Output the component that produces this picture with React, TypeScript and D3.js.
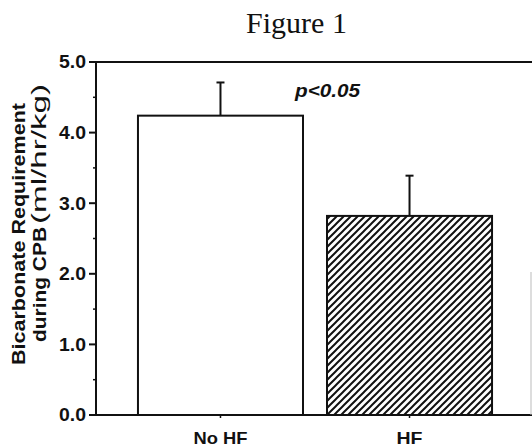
import React from "react";
import * as d3 from "d3";

const categories = ["No HF", "HF"];
const values = [4.24, 2.82];
const errors = [0.47, 0.57];
const yTicks = [0, 1, 2, 3, 4, 5];
const yMinorTicks = [0.5, 1.5, 2.5, 3.5, 4.5];
const yTickLabels = ["0.0", "1.0", "2.0", "3.0", "4.0", "5.0"];
const title = "Figure 1";
const annotation = "p<0.05";
const yTitleLine1 = "Bicarbonate Requirement";
const yTitleLine2a = "during CPB";
const yTitleLine2b = "(ml/hr/kg)";

const W = 532;
const H = 447;
const AX_LEFT = 96;
const AX_RIGHT = 532;
const SANS = "'Liberation Sans', Arial, Helvetica, sans-serif";

export default function App() {
  const y = d3.scaleLinear().domain([0, 5]).range([415, 62]);
  const x = d3
    .scaleBand<string>()
    .domain(categories)
    .range([96, 534])
    .paddingInner(0.127)
    .paddingOuter(0.222);
  const bw = x.bandwidth();

  return (
    <svg
      width={W}
      height={H}
      style={{ position: "absolute", left: 0, top: 0, background: "#fff" }}
    >
      <defs>
        <pattern id="hatch" patternUnits="userSpaceOnUse" width={7} height={7}>
          <rect width={7} height={7} fill="#fff" />
          <path
            d="M-1,1 l2,-2 M0,7 l7,-7 M6,8 l2,-2"
            stroke="#111"
            strokeWidth={2}
          />
        </pattern>
      </defs>

      {/* Title */}
      <text
        x={296.5}
        y={33}
        textAnchor="middle"
        fontFamily="'Liberation Serif', 'Times New Roman', serif"
        fontSize={30}
        fill="#111"
      >
        {title}
      </text>

      {/* Bars */}
      {categories.map((c, i) => {
        const x0 = x(c)!;
        const cx = x0 + bw / 2;
        return (
          <g key={c}>
            <line
              x1={cx}
              x2={cx}
              y1={y(values[i])}
              y2={y(values[i] + errors[i])}
              stroke="#111"
              strokeWidth={2}
            />
            <line
              x1={cx - 4}
              x2={cx + 4}
              y1={y(values[i] + errors[i])}
              y2={y(values[i] + errors[i])}
              stroke="#111"
              strokeWidth={2}
            />
            <rect
              x={x0}
              y={y(values[i])}
              width={bw}
              height={y(0) - y(values[i])}
              fill={i === 0 ? "#fff" : "url(#hatch)"}
              stroke="#111"
              strokeWidth={2}
            />
          </g>
        );
      })}

      {/* Frame: left axis, top line, baseline */}
      <line x1={AX_LEFT} x2={AX_LEFT} y1={y(5)} y2={y(0)} stroke="#111" strokeWidth={2} />
      <line x1={AX_LEFT - 1} x2={AX_RIGHT} y1={y(5)} y2={y(5)} stroke="#111" strokeWidth={2} />
      <line x1={AX_LEFT - 1} x2={AX_RIGHT} y1={y(0)} y2={y(0)} stroke="#111" strokeWidth={2} />
      <line x1={531} x2={531} y1={272} y2={y(0)} stroke="#bbb" strokeWidth={1} />

      {/* Y ticks */}
      {yTicks.map((t, i) => (
        <g key={t}>
          <line x1={AX_LEFT - 7} x2={AX_LEFT} y1={y(t)} y2={y(t)} stroke="#111" strokeWidth={2} />
          <text
            x={86}
            y={y(t)}
            dy="0.36em"
            textAnchor="end"
            fontFamily={SANS}
            fontWeight="bold"
            fontSize={17.5}
            textLength={27}
            lengthAdjust="spacingAndGlyphs"
            fill="#111"
          >
            {yTickLabels[i]}
          </text>
        </g>
      ))}
      {yMinorTicks.map((t) => (
        <line key={t} x1={AX_LEFT - 3} x2={AX_LEFT} y1={y(t)} y2={y(t)} stroke="#111" strokeWidth={1.5} />
      ))}

      {/* X ticks and labels */}
      {categories.map((c) => {
        const cx = x(c)! + bw / 2;
        return (
          <g key={c}>
            <line x1={cx} x2={cx} y1={y(0)} y2={y(0) + 3} stroke="#111" strokeWidth={1.5} />
            <text
              x={cx}
              y={444}
              textAnchor="middle"
              fontFamily={SANS}
              fontWeight="bold"
              fontSize={17}
              textLength={c === "HF" ? 26 : 54}
              lengthAdjust="spacingAndGlyphs"
              fill="#111"
            >
              {c}
            </text>
          </g>
        );
      })}

      {/* Annotation */}
      <text
        x={295}
        y={97}
        fontFamily={SANS}
        fontWeight="bold"
        fontStyle="italic"
        fontSize={18}
        textLength={65}
        lengthAdjust="spacingAndGlyphs"
        fill="#111"
      >
        {annotation}
      </text>

      {/* Y-axis title */}
      <text
        transform="translate(25,234) rotate(-90)"
        textAnchor="middle"
        fontFamily={SANS}
        fontWeight="bold"
        fontSize={19}
        textLength={262}
        lengthAdjust="spacingAndGlyphs"
        fill="#111"
      >
        {yTitleLine1}
      </text>
      <text
        transform="translate(46,284.5) rotate(-90)"
        textAnchor="middle"
        fontFamily={SANS}
        fontWeight="bold"
        fontSize={19}
        textLength={115}
        lengthAdjust="spacingAndGlyphs"
        fill="#111"
      >
        {yTitleLine2a}
      </text>
      <text
        transform="translate(46,154) rotate(-90)"
        textAnchor="middle"
        fontFamily={SANS}
        fontSize={20}
        textLength={140}
        lengthAdjust="spacingAndGlyphs"
        fill="#111"
      >
        {yTitleLine2b}
      </text>
    </svg>
  );
}
